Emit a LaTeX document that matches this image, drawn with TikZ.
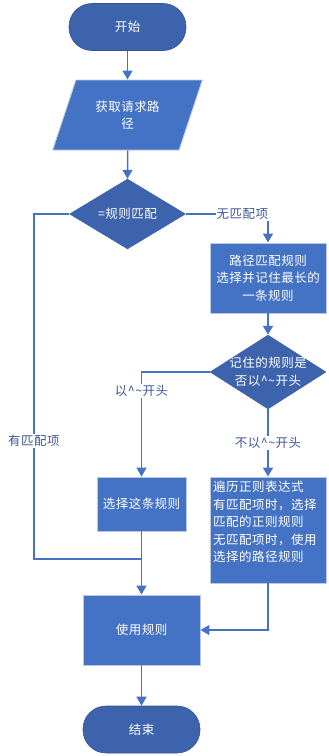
\documentclass[tikz,border=0pt]{standalone}
\usepackage{fontspec}
\setmainfont[LetterSpace=4]{Noto Sans CJK SC}
\usetikzlibrary{shapes.geometric,arrows.meta}
\definecolor{lineblue}{HTML}{4472C4}
\definecolor{darkfill}{HTML}{3D63AD}
\definecolor{boxfill}{HTML}{4472C4}
\definecolor{edgegray}{HTML}{BCC8DE}
\definecolor{labelc}{HTML}{3F5899}
\begin{document}
\begin{tikzpicture}[x=1pt,y=1pt,font=\fontsize{12.5}{17.5}\selectfont,
  term/.style={rectangle,rounded corners=23pt,fill=darkfill,draw=darkfill!85!black,line width=0.6pt,minimum width=117,minimum height=47,text=white,inner sep=0},
  proc/.style={rectangle,fill=boxfill,draw=edgegray,line width=0.9pt,text=white,align=center,inner sep=0},
  dec/.style={diamond,fill=darkfill,draw=darkfill,inner sep=0},
  io/.style={trapezium,trapezium left angle=63.4,trapezium right angle=116.6,trapezium stretches=true,fill=boxfill,draw=edgegray,line width=0.9pt,minimum width=151,minimum height=70,text=white,align=center,inner sep=0},
  wtxt/.style={text=white,align=center,inner sep=0},
  conn/.style={draw=lineblue,line width=1.5pt,-{Triangle[width=10pt,length=9pt]}},
  plain/.style={draw=lineblue,line width=1.5pt},
  lab/.style={fill=white,text=labelc,inner sep=1pt}]
\useasboundingbox (0,0) rectangle (329,-756);
\node[term] (start) at (127.5,-27) {开始};
\node[io] (get) at (127.5,-115) {获取请求路\\径};
\node[dec,minimum width=116,minimum height=70] (d1) at (127.5,-214) {};
\node[wtxt] (d1t) at (d1.center) {=规则匹配};
\node[proc,minimum width=116,minimum height=70] (b2) at (268,-278) {路径匹配规则\\选择并记住最长的\\一条规则};
\node[dec,minimum width=116,minimum height=74] (d2) at (268,-372) {};
\node[wtxt] (d2t) at (d2.center) {记住的规则是\\否以\textasciicircum\textasciitilde 开头};
\node[proc,minimum width=89,minimum height=54] (b3) at (141.5,-504) {选择这条规则};
\node[proc,minimum width=116,minimum height=106] (b4) at (268,-530) {};
\node[text=white,align=left,anchor=north west,inner sep=0] (b4t) at (213,-481) {遍历正则表达式\\有匹配项时，选择\\匹配的正则规则\\无匹配项时，使用\\选择的路径规则};
\node[proc,minimum width=117,minimum height=70] (use) at (141.5,-630) {使用规则};
\node[term] (end) at (141.5,-729.5) {结束};
\coordinate (lc) at (34,-559);
\coordinate (m) at (141.5,-559);
\draw[conn] (start) -- (get);
\draw[conn] (get.south) -- (d1.north);
\draw[conn] (d1.east) -| node[lab,pos=0.345] {无匹配项} (b2.north);
\draw[conn] (b2) -- (d2);
\draw[conn] (d2.west) -| node[lab,pos=0.59] {以\textasciicircum\textasciitilde 开头} (b3.north);
\draw[conn] (d2.south) -- node[lab,pos=0.5] {不以\textasciicircum\textasciitilde 开头} (b4.north);
\draw[plain] (d1.west) -| node[lab,pos=0.829] {有匹配项} (lc) -- (m);
\draw[conn] (b3.south) -- (use.north);
\draw[conn] (b4.south) |- (use.east);
\draw[conn] (use) -- (end);
\end{tikzpicture}
\end{document}
